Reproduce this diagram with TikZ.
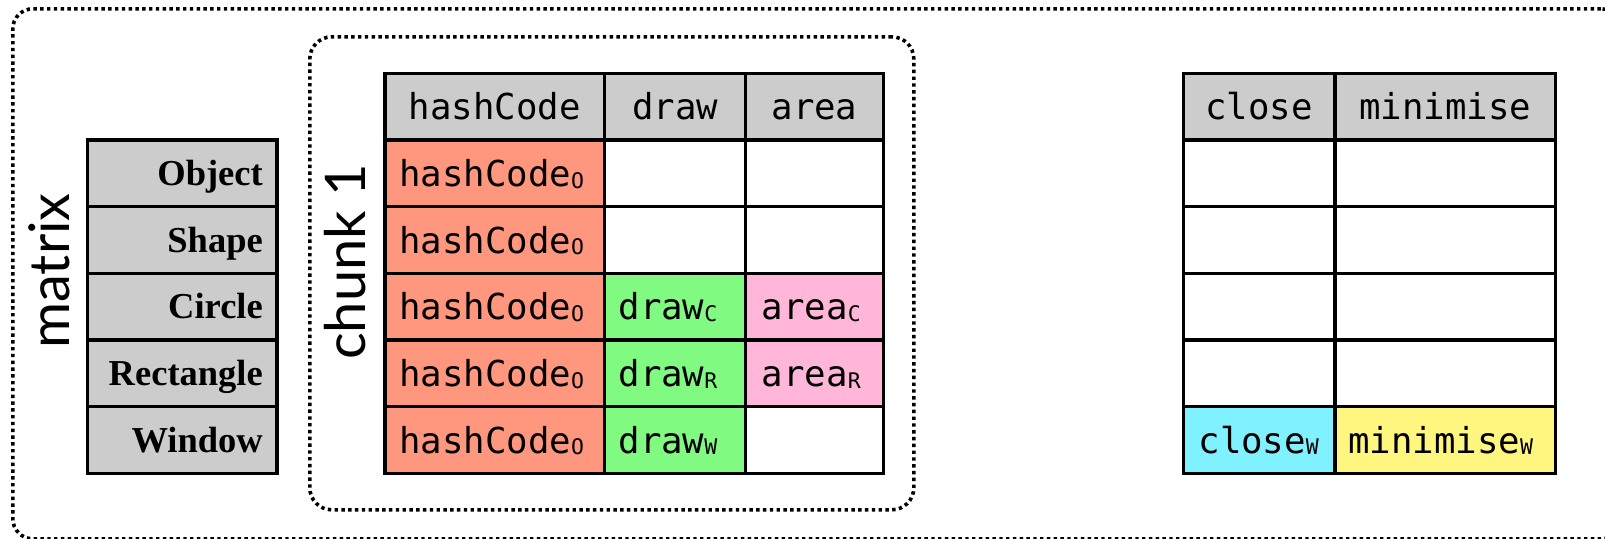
\documentclass[tikz,border=0pt]{standalone}
\usepackage{fontspec}
\newfontfamily\monof{DejaVu Sans Mono}
\newfontfamily\labf{Liberation Serif}
\newfontfamily\humf{Lato}
\definecolor{hdr}{RGB}{204,204,204}
\definecolor{salmon}{RGB}{255,150,126}
\definecolor{lgreen}{RGB}{128,250,128}
\definecolor{lpink}{RGB}{255,182,216}
\definecolor{lcyan}{RGB}{128,242,255}
\definecolor{lyellow}{RGB}{255,246,128}
\newcommand{\sbs}[1]{{\fontsize{21.5}{22}\selectfont\raisebox{-1.5pt}{#1}}}
\tikzset{
  tcell/.style={rectangle, draw=black, line width=3.5pt, inner sep=0pt, outer sep=0pt, anchor=north west, minimum height=66.7pt},
  monotxt/.style={inner sep=0pt, font=\monof\fontsize{35.7}{40}\selectfont},
  labtxt/.style={inner sep=0pt, font=\labf\bfseries\fontsize{36.5}{40}\selectfont},
  bigtxt/.style={inner sep=0pt, rotate=90, anchor=base, font=\humf\fontsize{56}{60}\selectfont},
  frame/.style={draw=black, line width=3.6pt, dash pattern=on 3.4pt off 3.4pt, rounded corners=20pt}
}
\begin{document}
\begin{tikzpicture}[x=1pt,y=-1pt]
\useasboundingbox (0,0) rectangle (1605,538);
\clip (0,0) rectangle (1605,538);
% frames
\node[frame, rectangle, minimum width=1608pt, minimum height=530pt, anchor=north west, inner sep=0pt] (outer) at (11,7) {};
\node[frame, rectangle, minimum width=604pt, minimum height=473pt, anchor=north west, inner sep=0pt, rounded corners=22pt] (chunk) at (308,35) {};
% rotated labels
\node[bigtxt] (mtx) at (69,271) {matrix};
\node[bigtxt] (chk) at (365,262) {chunk 1};
% left table
\foreach \i/\t/\y in {1/Object/140,2/Shape/206.7,3/Circle/273.3,4/Rectangle/340,5/Window/406.7}{
  \node[tcell, fill=hdr, minimum width=189.5pt] (L\i) at (87.5,\y) {};
  \node[labtxt, anchor=base east, xshift=-14pt, yshift=-12pt] (Lt\i) at (L\i.east) {\t};
}
% middle table header
\node[tcell, fill=hdr, minimum width=219.3pt] (Ha) at (385,73.3) {};
\node[tcell, fill=hdr, minimum width=141.4pt] (Hb) at (604.3,73.3) {};
\node[tcell, fill=hdr, minimum width=137.6pt] (Hc) at (745.7,73.3) {};
\node[monotxt, anchor=base, yshift=-13.3pt] (Hat) at (Ha.center) {hashCode};
\node[monotxt, anchor=base, yshift=-13.3pt] (Hbt) at (Hb.center) {draw};
\node[monotxt, anchor=base, yshift=-13.3pt] (Hct) at (Hc.center) {area};
% middle table rows
\foreach \i/\y/\cb/\cc in {1/140/white/white,2/206.7/white/white,3/273.3/lgreen/lpink,4/340/lgreen/lpink,5/406.7/lgreen/white}{
  \node[tcell, fill=salmon, minimum width=219.3pt] (A\i) at (385,\y) {};
  \node[tcell, fill=\cb, minimum width=141.4pt] (B\i) at (604.3,\y) {};
  \node[tcell, fill=\cc, minimum width=137.6pt] (C\i) at (745.7,\y) {};
  \node[monotxt, anchor=base west, xshift=14pt, yshift=-13.3pt] (At\i) at (A\i.west) {hashCode\sbs{O}};
}
\node[monotxt, anchor=base west, xshift=14pt, yshift=-13.3pt] (Bt3) at (B3.west) {draw\sbs{C}};
\node[monotxt, anchor=base west, xshift=14pt, yshift=-13.3pt] (Bt4) at (B4.west) {draw\sbs{R}};
\node[monotxt, anchor=base west, xshift=14pt, yshift=-13.3pt] (Bt5) at (B5.west) {draw\sbs{W}};
\node[monotxt, anchor=base west, xshift=16pt, yshift=-13.3pt] (Ct3) at (C3.west) {area\sbs{C}};
\node[monotxt, anchor=base west, xshift=16pt, yshift=-13.3pt] (Ct4) at (C4.west) {area\sbs{R}};
% right table
\node[tcell, fill=hdr, minimum width=151.7pt] (Ra) at (1183.3,73.3) {};
\node[tcell, fill=hdr, minimum width=220.7pt] (Rb) at (1335,73.3) {};
\node[monotxt, anchor=base, yshift=-13.3pt] (Rat) at (Ra.center) {close};
\node[monotxt, anchor=base, yshift=-13.3pt] (Rbt) at (Rb.center) {minimise};
\foreach \i/\y/\ca/\cb in {1/140/white/white,2/206.7/white/white,3/273.3/white/white,4/340/white/white,5/406.7/lcyan/lyellow}{
  \node[tcell, fill=\ca, minimum width=151.7pt] (P\i) at (1183.3,\y) {};
  \node[tcell, fill=\cb, minimum width=220.7pt] (Q\i) at (1335,\y) {};
}
\node[monotxt, anchor=base west, xshift=15pt, yshift=-13.3pt] (Pt5) at (P5.west) {close\sbs{W}};
\node[monotxt, anchor=base west, xshift=13pt, yshift=-13.3pt] (Qt5) at (Q5.west) {minimise\sbs{W}};
\end{tikzpicture}
\end{document}
